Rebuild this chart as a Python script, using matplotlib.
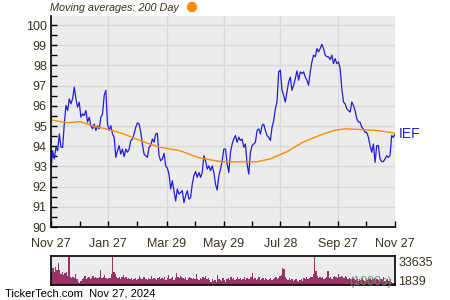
import matplotlib
matplotlib.use("Agg")
import matplotlib.pyplot as plt
import matplotlib.patches as mpatches
import numpy as np
import pandas as pd

plt.rcParams['font.family'] = ['Liberation Sans', 'DejaVu Sans']

# IEF closing prices, Nov 27 2023 -> Nov 27 2024
price = [92.87, 93.78, 93.37, 93.95, 93.78, 94.61, 93.95, 93.95, 95.10, 96.02, 95.77, 96.35, 96.10, 96.35, 96.93,
         96.35, 95.94, 96.18, 95.44, 95.60, 95.52, 95.77, 95.19, 95.44, 95.02, 94.86, 95.10, 94.78, 95.02, 94.86,
         95.44, 95.60, 96.52, 96.77, 95.10, 94.78, 95.02, 94.61, 94.44, 93.45, 93.78, 94.03, 93.61, 93.86, 93.48,
         93.86, 93.70, 93.86, 94.28, 94.36, 94.61, 94.94, 95.16, 95.10, 94.70, 94.11, 93.61, 93.53, 93.45, 93.95,
         94.03, 94.36, 94.20, 94.61, 94.64, 93.53, 93.28, 93.37,
         93.65, 93.03, 92.92, 92.62, 91.88, 92.29, 91.80, 91.29, 91.88, 91.63, 91.71, 91.80, 91.21, 91.54, 91.80,
         91.38, 91.46, 92.12, 92.54, 92.75, 92.46, 92.70, 92.46, 92.70, 93.53, 93.28, 92.87, 93.03, 92.79, 93.03,
         92.70, 92.12, 91.83, 92.54, 92.87, 93.28, 93.86, 93.86, 93.12, 92.70, 93.70, 94.11, 94.36, 94.53, 94.20,
         94.45, 94.28, 94.36, 93.95, 94.11, 93.12, 92.62, 93.70, 94.03, 94.11, 94.20, 94.78, 94.86, 94.61, 95.02,
         95.10, 94.78, 94.53, 94.45, 94.28, 94.94, 95.27, 95.85,
         96.19, 97.68, 97.77, 96.77, 96.52, 96.19, 96.69, 97.18, 97.43, 96.77, 97.02, 97.35, 97.73, 97.27, 97.68,
         97.60, 97.68, 97.43, 97.27, 97.02, 97.68, 98.18, 98.51, 98.43, 98.84, 98.67, 98.84, 99.05, 98.84, 98.51,
         98.43, 98.43, 98.29, 98.51, 98.09, 98.34, 98.09, 98.18, 97.85, 96.85, 96.19, 96.10, 95.85, 95.77, 95.69,
         96.19, 96.02, 95.77, 95.36, 95.19, 95.19, 94.94, 94.86, 94.69, 94.69, 94.44, 94.03, 93.70, 94.11, 93.20,
         94.03, 94.03, 93.37, 93.24, 93.24, 93.37, 93.53, 93.45, 93.53, 94.53, 94.44, 94.61]

# 200 day moving average
ma_dates = ['2023-11-27', '2023-12-14', '2023-12-28', '2024-01-11', '2024-01-29', '2024-02-12', '2024-03-01',
            '2024-03-11', '2024-03-22', '2024-04-12', '2024-05-03', '2024-05-27', '2024-06-18', '2024-07-03',
            '2024-07-17', '2024-08-05', '2024-08-21', '2024-09-09', '2024-09-23', '2024-10-04', '2024-10-21',
            '2024-11-08', '2024-11-25', '2024-11-27']
ma_values = [95.31, 95.16, 95.22, 95.00, 94.81, 94.61, 94.28, 94.11, 93.95, 93.78, 93.42, 93.23, 93.23, 93.23,
             93.37, 93.75, 94.20, 94.56, 94.78, 94.86, 94.83, 94.78, 94.66, 94.64]

# daily volume, thousands of shares
volume = [13530, 19330, 15460, 21260, 17400, 25900, 17400, 12760, 15460, 11600, 14300, 15460, 10440, 32000,
          9665, 7730, 9665, 7730, 12760, 6570, 3865, 2705, 5025, 6570, 7730, 10440, 6570, 7730, 8890, 6570, 7730,
          10440, 7730, 8890, 7730, 7730, 9665, 17400, 7730, 8890, 11600, 7730, 6570, 7730, 7730, 12760, 33635,
          15460, 12760, 8890, 7730, 8890, 6570, 9665, 11600, 7730, 8890, 6570, 7730, 6570, 7730, 5800, 6570, 7730,
          5800, 6570, 10440, 7730, 6570, 8890, 9665, 6570, 5800, 7730, 6570, 10440, 6570, 7730, 6570, 5800, 7730,
          8890, 6570, 7730, 6570, 9665, 5800, 7730, 11600, 6570, 7730, 9665, 5800, 7730, 14300, 9665, 7730, 10440,
          9665, 7730, 6570, 8890, 5800, 7730, 9665, 7730, 6570, 7730, 6570, 12760, 6570, 5800, 7730, 6570, 8890,
          7730, 10440, 6570, 7730, 5800, 3865, 6570, 5025, 5800, 3865, 11600, 6570, 5800, 5025, 7730, 5800, 3865,
          6570, 7730, 5800, 9665, 6570, 7730, 5800, 6570, 9665, 6570, 7730, 5800, 6570, 8890, 5800, 7730, 6570,
          6570, 9665, 13530, 6570, 7730, 5800, 6570, 8890, 5800, 6570, 7730, 5800, 7730, 6570, 5800, 6570, 7730,
          5800, 6570, 7730, 9665, 6570, 7730, 10440, 11600, 19330, 18170, 9665, 6570, 5800, 7730, 5800, 6570, 5025,
          5800, 6570, 5025, 3865, 5800, 6570, 5025, 7730, 6570, 8890, 6570, 7730, 8890, 9665, 12760, 33000, 16620,
          10440, 7730, 8890, 7730, 9665, 6570, 7730, 8890, 16620, 7730, 9665, 6570, 8890, 10440, 9665, 7730, 12760,
          8890, 10440, 9665, 7730, 10440, 8890, 6570, 7730, 6570, 5800, 7730, 6570, 5800, 6570, 5025, 6570, 5800,
          7730, 5800, 5025, 6570, 5800, 6570, 7730, 5800, 6570, 7730, 5800, 6570, 5800, 5025, 6570, 5800, 8890,
          5025, 5800, 6570, 5025, 6570, 3865, 1933, 1839]

start = pd.Timestamp('2023-11-27')
end = pd.Timestamp('2024-11-27')
dates = pd.date_range(start, end, periods=len(price))
tick_dates = ['2023-11-27', '2024-01-27', '2024-03-29', '2024-05-29', '2024-07-28', '2024-09-27', '2024-11-27']
tick_labels = ['Nov 27', 'Jan 27', 'Mar 29', 'May 29', 'Jul 28', 'Sep 27', 'Nov 27']

txt = '#3b3220'
bg = '#ececec'
grid = '#d9d9d9'

fig = plt.figure(figsize=(4.5, 3), dpi=100)
ax = fig.add_axes([51/450, 1-227/300, 344/450, 211/300])
ax.set_facecolor(bg)
ax.plot(dates, price, color='#1f1fdd', lw=0.9)
ax.plot(pd.to_datetime(ma_dates), ma_values, color='#ff8c00', lw=1.0)
ax.set_xlim(start, end)
ax.set_ylim(90, 100.45)
ax.set_yticks(np.arange(90, 101, 1))
ax.set_yticks(np.arange(90.5, 100.5, 1), minor=True)
td = pd.to_datetime(tick_dates)
ax.set_xticks(td)
ax.set_xticklabels(tick_labels)
ax.set_xticks(td[:-1] + (td[1:] - td[:-1]) / 2, minor=True)
ax.grid(True, which='major', color=grid, lw=1)
ax.set_axisbelow(True)
for s in ['top', 'right']:
    ax.spines[s].set_visible(False)
for s in ['left', 'bottom']:
    ax.spines[s].set_color('black')
    ax.spines[s].set_linewidth(1.2)
ax.tick_params(which='both', direction='in', length=4, width=1, colors='black',
               labelsize=9, labelcolor=txt)
ax.tick_params(axis='x', pad=8)
ax.tick_params(axis='y', pad=3)

# legend line on top
fig.text(50/450, 1-8/300, 'Moving averages: 200 Day', style='italic', fontsize=7.8,
         color=txt, ha='left', va='center')
fig.add_artist(mpatches.Ellipse((192/450, 1-7/300), 9/450, 9/300, color='#ff8c00',
                                transform=fig.transFigure))
ax.annotate('IEF', xy=(dates[-1], price[-1]), xytext=(3, 0), textcoords='offset points',
            color='#1f1fdd', fontsize=10, va='center', ha='left', annotation_clip=False)

# volume panel
vax = fig.add_axes([51/450, 1-285/300, 344/450, 29/300])
vax.set_facecolor(bg)
vax.bar(np.arange(len(volume)), volume, width=1.0, color='#993366', linewidth=0)
vax.set_xlim(-0.5, len(volume) - 0.5)
vax.set_ylim(0, 33635)
vax.set_xticks([])
vax.set_yticks([])
for s in vax.spines.values():
    s.set_color('black')
    s.set_linewidth(1.2)
vax.text(1.01, 0.75, str(max(volume)), transform=vax.transAxes, fontsize=9, color=txt, va='center')
vax.text(1.01, 0.1, str(min(volume)), transform=vax.transAxes, fontsize=9, color=txt, va='center')
vax.text(0.99, 0.12, '(1000s)', transform=vax.transAxes, fontsize=9, color='#5f8f6a', alpha=0.9,
         ha='right', va='center')

fig.text(5/450, 1-293/300, 'TickerTech.com  Nov 27, 2024', fontsize=8, color='black', va='center')

fig.savefig('out.png', dpi=100)
